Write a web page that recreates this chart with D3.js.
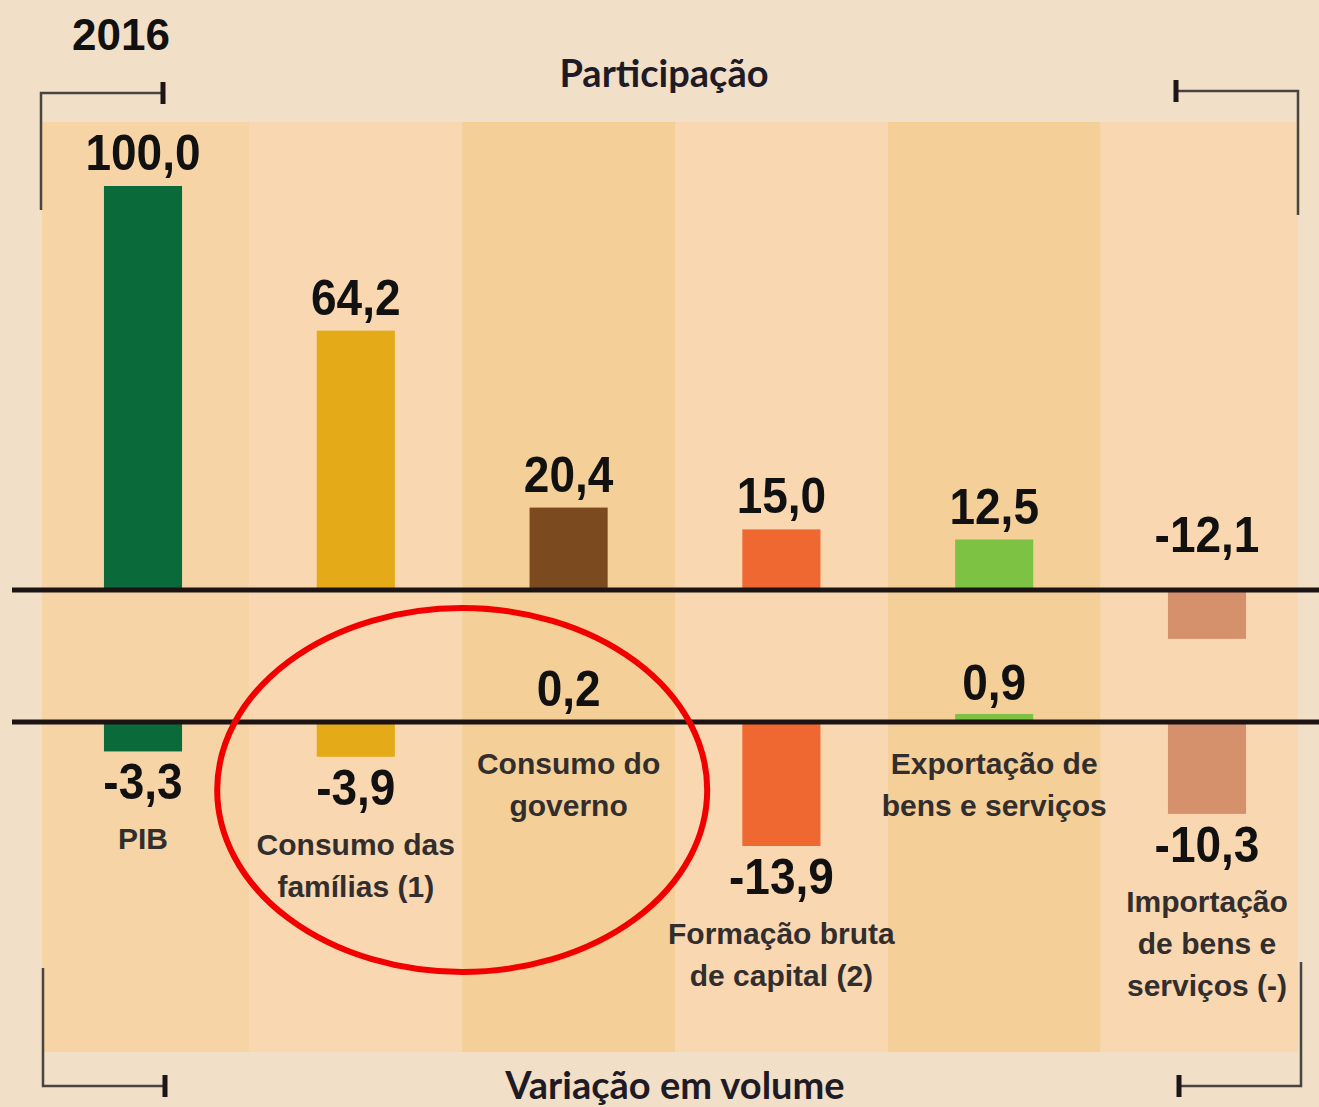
<!DOCTYPE html>
<html>
<head>
<meta charset="utf-8">
<script src="https://cdn.jsdelivr.net/npm/d3@7"></script>
<style>
  html, body { margin: 0; padding: 0; background: #f2dfc7; }
  svg { display: block; }
  .val { font-family: "Liberation Sans", Arial, sans-serif; font-weight: bold; font-size: 46px; fill: #111; text-anchor: middle; }
  .cat { font-family: "Liberation Sans", Arial, sans-serif; font-weight: bold; font-size: 30px; fill: #332e2e; text-anchor: middle; }
  .title { font-family: Lato, "Open Sans", sans-serif; font-weight: bold; font-size: 38px; fill: #1f1b26; text-anchor: middle; }
  .year { font-family: "Liberation Sans", Arial, sans-serif; font-weight: bold; font-size: 44px; fill: #111; text-anchor: middle; }
  .bracket { fill: none; stroke: #4a4440; stroke-width: 2.5; }
  .tick { stroke: #1c1616; stroke-width: 5; }
</style>
</head>
<body>
<script>
"use strict";

// ---- data --------------------------------------------------------------
var categories = ["PIB", "Consumo das famílias (1)", "Consumo do governo",
	"Formação bruta de capital (2)", "Exportação de bens e serviços",
	"Importação de bens e serviços (-)"];
// label lines as printed under each column
var categoryLines = [["PIB"], ["Consumo das", "famílias (1)"], ["Consumo do", "governo"],
	["Formação bruta", "de capital (2)"], ["Exportação de", "bens e serviços"],
	["Importação", "de bens e", "serviços (-)"]];
var participacao = [100.0, 64.2, 20.4, 15.0, 12.5, -12.1];   // 2016, %
var variacao = [-3.3, -3.9, 0.2, -13.9, 0.9, -10.3];          // variação em volume, %

// ---- styles --------------------------------------------------------------
var barColors = ["#0b6a3a", "#e5aa17", "#7c4a1f", "#ef6731", "#7dc243", "#d4916b"];
var columnColors = ["#f7d4a6", "#f8d7b1", "#f4cf98", "#f8d7b1", "#f4cf98", "#f8d7b1"];

var W = 1319, H = 1107;
// pt-BR style: decimal comma, plain hyphen for negatives
var fmt = function(v) { return d3.format(".1f")(v).replace(".", ",").replace("\u2212", "-"); };

var svg = d3.select("body").append("svg").attr("width", W).attr("height", H);
svg.append("rect").attr("width", W).attr("height", H).attr("fill", "#f2dfc7");

// ---- scales ------------------------------------------------------------
var x = d3.scaleBand().domain(categories).range([36.6, 1313.4]);
var barW = x.bandwidth() * 0.367;
var cx = function(c) { return x(c) + x.bandwidth() / 2; };

var yTop = d3.scaleLinear().domain([0, 100]).range([590, 186]);
var yBot = d3.scaleLinear().domain([0, -13.9]).range([722, 846]);

// ---- column backgrounds ------------------------------------------------------
svg.append("g").selectAll("rect").data(categories).join("rect")
	.attr("x", function(c) { return Math.max(42, x(c)); })
	.attr("width", function(c) { return Math.min(1298, x(c) + x.bandwidth()) - Math.max(42, x(c)); })
	.attr("y", 122).attr("height", 930)
	.attr("fill", function(c, i) { return columnColors[i]; });

// ---- bars --------------------------------------------------------------
function drawBars(values, y) {
	svg.append("g").selectAll("rect").data(values).join("rect")
		.attr("x", function(v, i) { return cx(categories[i]) - barW / 2; })
		.attr("width", barW)
		.attr("y", function(v) { return Math.min(y(v), y(0)); })
		.attr("height", function(v) { return Math.abs(y(v) - y(0)); })
		.attr("fill", function(v, i) { return barColors[i]; });
}
drawBars(participacao, yTop);
drawBars(variacao, yBot);

// zero lines
[yTop(0), yBot(0)].forEach(function(yy) {
	svg.append("line").attr("x1", 12).attr("x2", W).attr("y1", yy).attr("y2", yy)
		.attr("stroke", "#1c1414").attr("stroke-width", 5);
});

// ---- value labels ------------------------------------------------------------
function valueText(xx, yy, v) {
	svg.append("text").attr("class", "val")
		.attr("transform", "translate(" + xx + "," + yy + ") scale(1,1.1)")
		.text(fmt(v));
}

participacao.forEach(function(v, i) {
	var base = v >= 0 ? yTop(v) - 16 : yTop(0) - 38;
	valueText(cx(categories[i]), base, v);
});

variacao.forEach(function(v, i) {
	var c = categories[i], catY;
	if (v < 0) {
		var base = yBot(v) + 48;
		valueText(cx(c), base, v);
		catY = base + 50;
	} else {
		valueText(cx(c), yBot(v) - 14, v);
		catY = yBot(0) + 52;
	}
	var t = svg.append("text").attr("class", "cat");
	categoryLines[i].forEach(function(line, k) {
		t.append("tspan").attr("x", cx(c)).attr("y", catY + k * 42).text(line);
	});
});

// ---- titles and brackets ----------------------------------------------------------
svg.append("text").attr("class", "year").attr("x", 121).attr("y", 50).text("2016");
svg.append("text").attr("class", "title").attr("x", 664).attr("y", 87).text("Participação");
svg.append("text").attr("class", "title").attr("x", 675).attr("y", 1099).text("Variação em volume");

function bracket(pts, tx, ty) {
	svg.append("path").attr("class", "bracket").attr("d", d3.line()(pts));
	svg.append("line").attr("class", "tick").attr("x1", tx).attr("x2", tx)
		.attr("y1", ty - 11).attr("y2", ty + 11);
}
bracket([[41, 210], [41, 93], [163, 93]], 163, 93);
bracket([[1176, 91], [1298, 91], [1298, 215]], 1176, 91);
bracket([[43, 968], [43, 1086], [165, 1086]], 165, 1086);
bracket([[1179, 1086], [1301, 1086], [1301, 962]], 1179, 1086);

// ---- red annotation circling the two consumption columns -------------------------
svg.append("ellipse")
	.attr("cx", x(categories[2])).attr("cy", 790)
	.attr("rx", 245).attr("ry", 182)
	.attr("fill", "none").attr("stroke", "#f20000").attr("stroke-width", 6);
</script>
</body>
</html>
